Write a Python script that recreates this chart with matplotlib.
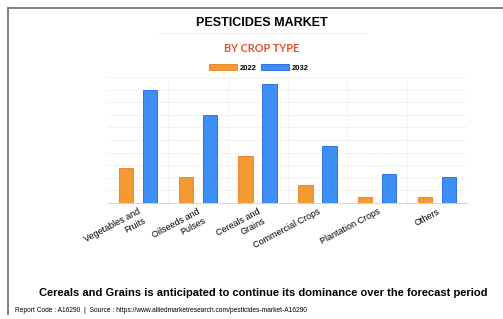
import matplotlib.pyplot as plt
import numpy as np

# data (grid units, 0-10)
crops = ['Vegetables and\nFruits', 'Oilseeds and\nPulses', 'Cereals and\nGrains',
         'Commercial Crops', 'Plantation Crops', 'Others']
v2022 = [2.8, 2.1, 3.7, 1.45, 0.5, 0.45]
v2032 = [9.0, 7.0, 9.45, 4.5, 2.3, 2.05]

plt.rcParams['font.family'] = ['Liberation Sans', 'DejaVu Sans']

fig = plt.figure(figsize=(5.03, 3.19), dpi=100)
W, H = 503, 319

# frame lines (top and left only)
fig.add_artist(plt.Line2D([8 / W, 1], [1 - 7.5 / H, 1 - 7.5 / H], color='#777777', lw=1.3))
fig.add_artist(plt.Line2D([8 / W, 8 / W], [1 - 7.5 / H, 1 - 314 / H], color='#777777', lw=1.3))
# faint rule under title
fig.add_artist(plt.Line2D([158 / W, 367 / W], [1 - 33 / H, 1 - 33 / H], color='#eeeeee', lw=0.8))

fig.text(262 / W, 1 - 23 / H, 'PESTICIDES MARKET', ha='center', va='center',
         fontsize=9, fontweight='bold', color='black')
fig.text(262 / W, 1 - 48 / H, 'BY CROP TYPE', ha='center', va='center',
         fontsize=7.8, fontweight='bold', color='#E4522C', family=['Lato', 'DejaVu Sans'])

ax = fig.add_axes([108 / W, 1 - 203 / H, 359 / W, 126 / H])
x = np.arange(len(crops))
w = 0.24
b1 = ax.bar(x - 0.2, v2022, w, color='#F39A33', edgecolor='#F07A22', lw=0.6, label='2022', zorder=3)
b2 = ax.bar(x + 0.2, v2032, w, color='#3D8EF5', edgecolor='#1F62E6', lw=0.6, label='2032', zorder=3)

ax.set_xlim(-0.5, 5.5)
ax.set_ylim(0, 10)
ax.set_yticks(np.arange(0, 11, 1))
ax.set_yticklabels([])
ax.tick_params(axis='y', length=0)
ax.grid(axis='y', color='#f0f0f0', lw=0.6, zorder=0)
for b in np.arange(0.5, 5.5, 1):
    ax.axvline(b, color='#f0f0f0', lw=0.6, zorder=0)
for s in ['top', 'right', 'left']:
    ax.spines[s].set_visible(False)
ax.spines['bottom'].set_color('#cccccc')
ax.spines['bottom'].set_linewidth(0.6)

ax.set_xticks(x)
ax.set_xticklabels(crops, rotation=28, ha='right', va='top', rotation_mode='anchor',
                   fontsize=6.5, multialignment='right')
ax.tick_params(axis='x', length=0, pad=3)

leg = fig.legend([b1, b2], ['2022', '2032'], loc='center', bbox_to_anchor=(259 / W, 1 - 68 / H),
                 ncol=2, frameon=False, fontsize=5.5, handlelength=3.6, handleheight=0.9,
                 columnspacing=0.6, handletextpad=0.4)
for t in leg.get_texts():
    t.set_fontweight('bold')

fig.text(263 / W, 1 - 293 / H,
         'Cereals and Grains is anticipated to continue its dominance over the forecast period',
         ha='center', va='center', fontsize=8, fontweight='bold', color='black')
fig.text(15 / W, 1 - 311 / H,
         'Report Code : A16290  |  Source : https://www.alliedmarketresearch.com/pesticides-market-A16290',
         ha='left', va='center', fontsize=4.8, color='black')

fig.savefig('out.png', dpi=100)
